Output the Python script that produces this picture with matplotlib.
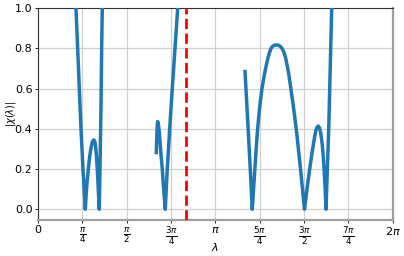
import matplotlib
matplotlib.use("Agg")
import matplotlib.pyplot as plt
import numpy as np

# ── Données ──────────────────────────────────────────────────────────
# branche 1
lam_1 = [0.668, 0.673, 0.688, 0.703, 0.718, 0.732, 0.747, 0.762, 0.780, 0.797, 0.818, 0.838,
         0.853, 0.868, 0.885, 0.903, 0.920, 0.939, 0.963, 0.987, 1.003, 1.018, 1.035,
         1.050, 1.060, 1.068, 1.077, 1.086, 1.098, 1.110, 1.120, 1.128, 1.139, 1.145]
chi_1 = [1.08, 1.00, 0.90, 0.80, 0.70, 0.60, 0.50, 0.40, 0.30, 0.20, 0.10, 0.00,
         0.07, 0.13, 0.18, 0.23, 0.27, 0.305, 0.335, 0.345, 0.34, 0.32, 0.27,
         0.20, 0.15, 0.10, 0.05, 0.00, 0.20, 0.40, 0.60, 0.80, 1.00, 1.10]

# branche 2
lam_2 = [2.096, 2.102, 2.108, 2.114, 2.120, 2.128, 2.138, 2.150, 2.161, 2.180, 2.202,
         2.218, 2.232, 2.243, 2.255, 2.272, 2.290, 2.312, 2.333, 2.356, 2.379,
         2.403, 2.427, 2.451, 2.475, 2.487]
chi_2 = [0.282, 0.34, 0.39, 0.42, 0.436, 0.43, 0.41, 0.38, 0.34, 0.27, 0.20,
         0.13, 0.08, 0.04, 0.00, 0.10, 0.20, 0.30, 0.40, 0.50, 0.60,
         0.70, 0.80, 0.90, 1.00, 1.06]

# branche 3
lam_3 = [3.667, 3.696, 3.725, 3.745, 3.764, 3.780, 3.796, 3.820, 3.843, 3.864, 3.885,
         3.910, 3.940, 3.968, 4.010, 4.051, 4.090, 4.128, 4.155, 4.181, 4.210, 4.239,
         4.268, 4.300, 4.330, 4.358, 4.385, 4.410, 4.438, 4.464, 4.520, 4.583,
         4.620, 4.654, 4.688, 4.721, 4.748, 4.774, 4.803, 4.831, 4.854, 4.877,
         4.900, 4.921, 4.943, 4.965, 4.987, 5.008, 5.036, 5.054, 5.072, 5.087,
         5.102, 5.126, 5.150, 5.168, 5.185, 5.203, 5.210]
chi_3 = [0.685, 0.54, 0.39, 0.28, 0.18, 0.09, 0.00, 0.105, 0.205, 0.295, 0.38,
         0.46, 0.54, 0.60, 0.67, 0.725, 0.77, 0.80, 0.81, 0.815, 0.817, 0.817,
         0.815, 0.808, 0.797, 0.78, 0.755, 0.72, 0.68, 0.63, 0.52, 0.38,
         0.28, 0.19, 0.095, 0.00, 0.06, 0.12, 0.18, 0.235, 0.28, 0.32,
         0.36, 0.39, 0.408, 0.414, 0.405, 0.38, 0.32, 0.26, 0.18, 0.10,
         0.00, 0.20, 0.40, 0.60, 0.80, 1.00, 1.08]

lam_crit = 2.62

xticks = [0, np.pi / 4, np.pi / 2, 3 * np.pi / 4, np.pi,
          5 * np.pi / 4, 3 * np.pi / 2, 7 * np.pi / 4, 2 * np.pi]
xtick_labels = ["0", r"$\frac{\pi}{4}$", r"$\frac{\pi}{2}$", r"$\frac{3\pi}{4}$", r"$\pi$",
                r"$\frac{5\pi}{4}$", r"$\frac{3\pi}{2}$", r"$\frac{7\pi}{4}$", r"$2\pi$"]

# ── Figure ───────────────────────────────────────────────────────────
fig = plt.figure(figsize=(4.04, 2.56), dpi=100)
ax = fig.add_axes([0.094, 0.141, 0.878, 0.827])

for lam, chi in [(lam_1, chi_1), (lam_2, chi_2), (lam_3, chi_3)]:
    ax.plot(lam, chi, color="#1f77b4", lw=2.5, solid_joinstyle="round", zorder=3)

ax.axvline(lam_crit, color="red", ls="--", lw=2, zorder=4)

ax.set_xlim(0, 2 * np.pi)
ax.set_ylim(-0.053, 1.0)
ax.set_xticks(xticks)
ax.set_xticklabels(xtick_labels)
ax.set_yticks([0, 0.2, 0.4, 0.6, 0.8, 1.0])
ax.tick_params(labelsize=8, length=2.5, width=0.6, pad=1.5)
# les fractions sont plus grandes sur l'original
for lbl in ax.get_xticklabels():
    if "frac" in lbl.get_text():
        lbl.set_fontsize(9)
ax.set_xlabel(r"$\lambda$", fontsize=8, va="top")
ax.xaxis.set_label_coords(0.5, -0.100)
ax.set_ylabel(r"$|\chi(\lambda)|$", fontsize=7)
ax.yaxis.set_label_coords(-0.056, 0.5)
ax.grid(True, color="#d0d0d0", lw=0.9)

for side in ["left", "top"]:
    ax.spines[side].set_color("#333333")
    ax.spines[side].set_linewidth(0.8)
for side in ["bottom", "right"]:
    ax.spines[side].set_color("#a0a0a0")
    ax.spines[side].set_linewidth(1.6)

fig.savefig("out.png", dpi=100)
plt.close()
